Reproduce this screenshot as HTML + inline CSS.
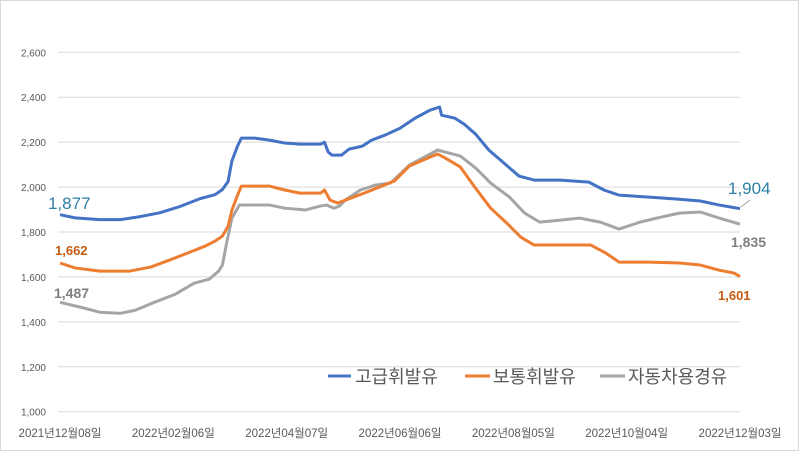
<!DOCTYPE html>
<html><head><meta charset="utf-8">
<style>
html,body{margin:0;padding:0;background:#fff;}
svg{display:block;font-family:"Liberation Sans","Noto Sans CJK KR",sans-serif;}
</style></head>
<body>
<svg id="chart" width="800" height="452" viewBox="0 0 800 452" xmlns="http://www.w3.org/2000/svg">
<rect x="0.5" y="0.5" width="798" height="450" fill="#fff" stroke="#d9d9d9"/>
<g id="grid"></g><g id="yticks"></g><g id="xticks"></g><g id="series"></g><g id="labels"></g>
<g>
<g><line x1="328" y1="376" x2="351" y2="376" stroke="#4472c4" stroke-width="3"/><text x="355" y="383" font-size="18" fill="#595959">고급휘발유</text></g>
<g><line x1="465" y1="376" x2="490" y2="376" stroke="#ed7d31" stroke-width="3"/><text x="493" y="383" font-size="18" fill="#595959">보통휘발유</text></g>
<g><line x1="600" y1="376" x2="625" y2="376" stroke="#a5a5a5" stroke-width="3"/><text x="628" y="383" font-size="18" fill="#595959">자동차용경유</text></g>
</g>
</svg>
<script>
const yTicks=[1000,1200,1400,1600,1800,2000,2200,2400,2600];
const xTickDays=[0,60,120,180,240,300,360];
const xTickLabels=["2021년12월08일","2022년02월06일","2022년04월07일","2022년06월06일","2022년08월05일","2022년10월04일","2022년12월03일"];
const premiumDays=[0,8,21,32,42,53,63,74,82,86,89,91,94,96,103,111,119,127,138,140,142,144,149,153,160,165,172,180,188,196,201,202,209,214,220,227,235,243,251,265,280,288,296,312,328,339,349,360];
const premiumVals=[1877,1863,1855,1855,1868,1886,1912,1948,1966,1989,2025,2116,2183,2218,2218,2209,2196,2191,2191,2200,2156,2142,2142,2169,2182,2209,2231,2262,2307,2343,2356,2320,2307,2280,2236,2165,2107,2049,2031,2031,2022,1987,1964,1955,1946,1938,1920,1904];
const regularDays=[0,8,21,37,48,58,69,77,82,86,89,91,94,96,111,119,127,138,140,143,147,154,161,169,177,185,196,200,204,212,220,228,236,244,251,265,281,289,296,312,328,339,349,357,360];
const regularVals=[1662,1640,1626,1626,1644,1675,1711,1738,1759,1782,1826,1897,1964,2004,2004,1987,1973,1973,1987,1942,1929,1951,1973,2000,2027,2094,2134,2147,2129,2089,1995,1906,1844,1777,1742,1742,1742,1706,1666,1666,1662,1653,1630,1617,1601];
const dieselDays=[0,11,21,32,40,50,61,71,79,84,86,88,91,95,111,119,130,138,141,145,148,151,159,167,175,185,200,212,220,228,238,246,254,265,275,286,296,307,318,328,339,349,360];
const dieselVals=[1487,1465,1443,1438,1452,1487,1523,1572,1590,1626,1653,1742,1862,1920,1920,1906,1898,1916,1920,1906,1916,1942,1987,2009,2018,2098,2165,2138,2085,2018,1955,1884,1844,1853,1862,1844,1813,1844,1866,1884,1889,1862,1835];

const NS="http://www.w3.org/2000/svg";
const X0=60,X1=740,Y0=411.7,Y1=52.3,VMIN=1000,VMAX=2600,DMAX=360;
const xs=d=>X0+(X1-X0)*d/DMAX;
const ys=v=>Y0-(Y0-Y1)*(v-VMIN)/(VMAX-VMIN);
function mk(tag,attrs,parent){const e=document.createElementNS(NS,tag);for(const k in attrs)e.setAttribute(k,attrs[k]);parent.appendChild(e);return e;}
const grid=document.getElementById('grid'),yt=document.getElementById('yticks'),xt=document.getElementById('xticks'),ser=document.getElementById('series'),lab=document.getElementById('labels');
yTicks.forEach(v=>{
 const l=mk('line',{x1:X0-2,x2:X1,y1:ys(v),y2:ys(v),stroke:'#d9d9d9','stroke-width':1},grid);
 
 
 const t=mk('text',{x:46,y:ys(v)+4,'font-size':10,fill:'#595959','text-anchor':'end'},yt);
 t.textContent=v.toLocaleString('en-US');
 
 
});
xTickDays.forEach((d,i)=>{
 const t=mk('text',{x:xs(d),y:437,'font-size':11.5,fill:'#595959','text-anchor':'middle'},xt);
 t.textContent=xTickLabels[i];
 
 
});
function line(days,vals,color,name){
 const p=mk('polyline',{points:days.map((d,i)=>xs(d)+','+ys(vals[i])).join(' '),fill:'none',stroke:color,'stroke-width':3,'stroke-linejoin':'round'},ser);
 
 
}
line(dieselDays,dieselVals,'#a5a5a5','diesel-line');
line(regularDays,regularVals,'#ed7d31','regular-gasoline-line');
line(premiumDays,premiumVals,'#4472c4','premium-gasoline-line');
function label(txt,x,y,color,size,bold,name){
 const t=mk('text',{x:x,y:y,'font-size':size,fill:color,'font-weight':bold?'bold':'normal'},lab);
 t.textContent=txt;
 
 
}
const fmt=v=>v.toLocaleString('en-US');
label(fmt(premiumVals[0]),48,209,'#2e80a8',17,false,'premium-start-label');
label(fmt(regularVals[0]),55,255,'#c55a11',13,true,'regular-start-label');
label(fmt(dieselVals[0]),54,298,'#7f7f7f',14,true,'diesel-start-label');
label(fmt(premiumVals[premiumVals.length-1]),728,194,'#2e80a8',17,false,'premium-end-label');
label(fmt(dieselVals[dieselVals.length-1]),731,247,'#7f7f7f',14,true,'diesel-end-label');
label(fmt(regularVals[regularVals.length-1]),718,300,'#c55a11',13,true,'regular-end-label');
const ll=mk('line',{x1:741,y1:207,x2:750,y2:200,stroke:'#a5a5a5','stroke-width':1},lab);


</script>
</body></html>
